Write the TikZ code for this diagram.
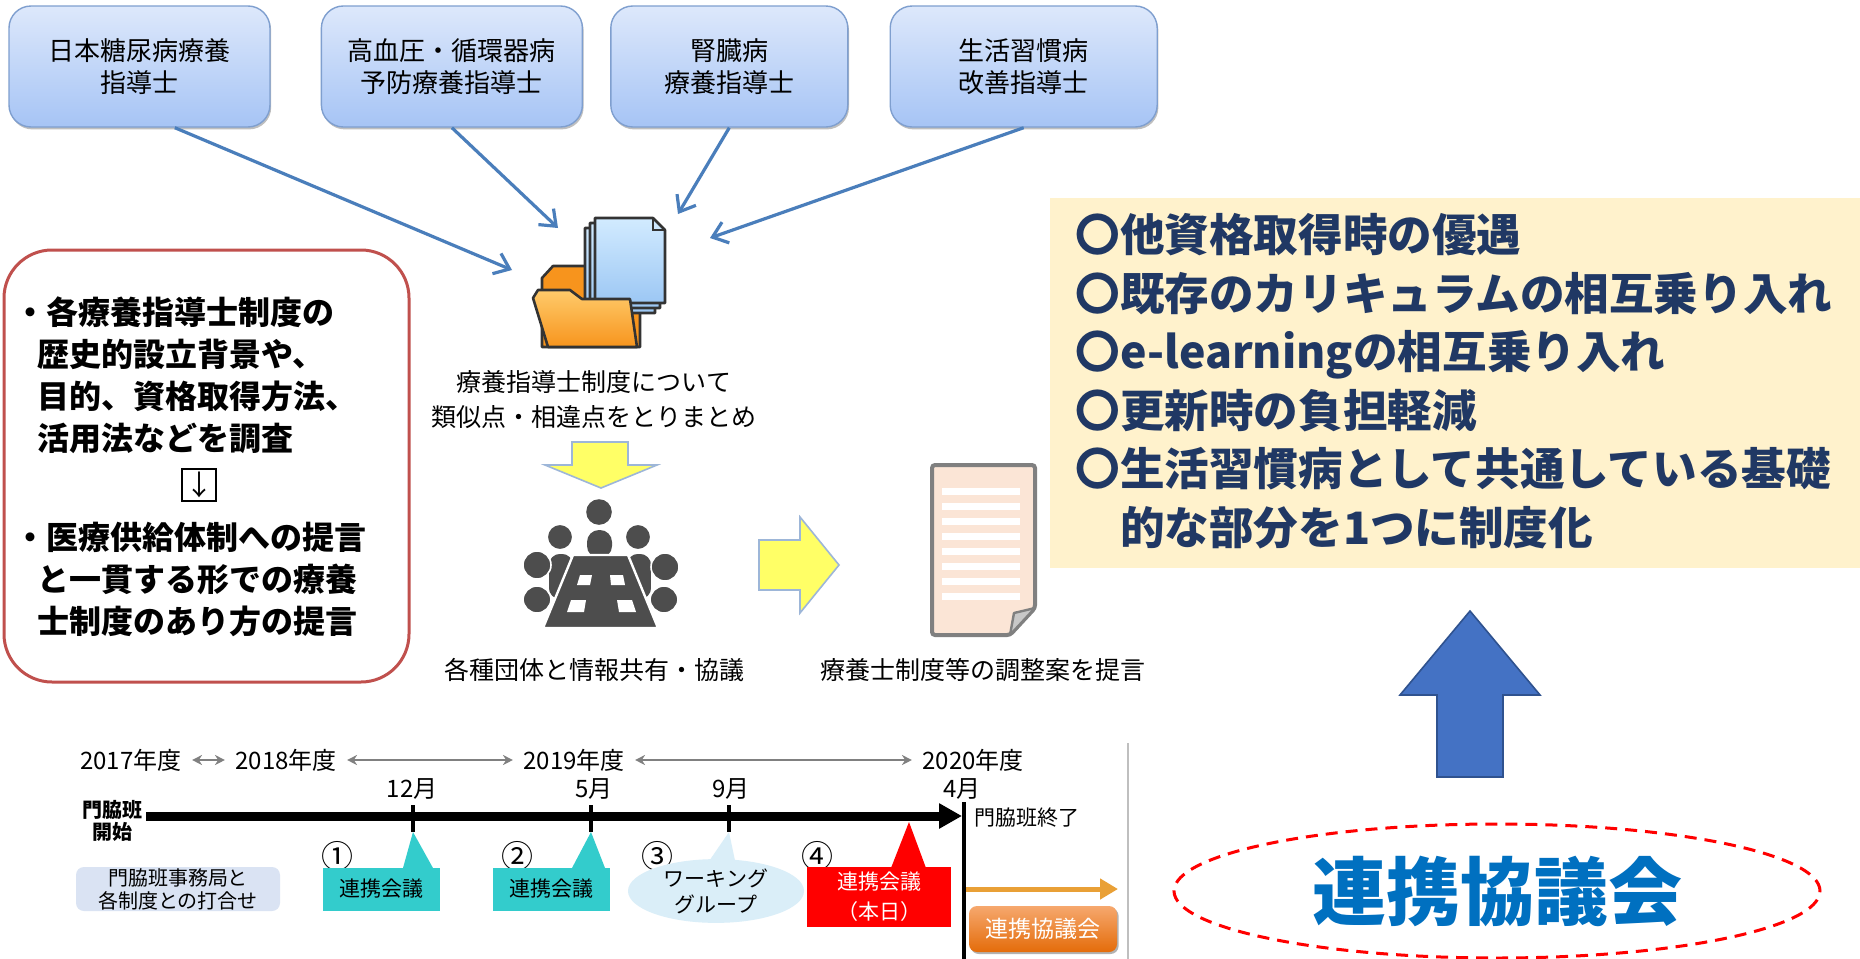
\documentclass[tikz,border=0pt]{standalone}
\usepackage{fontspec}
\setmainfont{Noto Sans CJK JP}
\usepackage{tikz}
\usetikzlibrary{positioning, shapes.geometric, arrows.meta, shadows}

\definecolor{boxtop}{HTML}{DDE8FB}
\definecolor{boxbot}{HTML}{A6C4F5}
\definecolor{boxedge}{HTML}{7F9FCF}
\definecolor{linkblue}{HTML}{4A7EBB}
\definecolor{redline}{HTML}{C0504D}
\definecolor{cream}{HTML}{FFF2CC}
\definecolor{navy}{HTML}{203864}
\definecolor{upblue}{HTML}{4472C4}
\definecolor{upedge}{HTML}{2F528F}
\definecolor{kyoblue}{HTML}{0070C0}
\definecolor{icongray}{HTML}{4D4D4D}
\definecolor{iconline}{HTML}{333333}
\definecolor{folderlight}{HTML}{FFCB6B}
\definecolor{folderdark}{HTML}{F7941D}
\definecolor{pagetop}{HTML}{D2EBFF}
\definecolor{pagebot}{HTML}{9CC7F4}
\definecolor{peach}{HTML}{FBE5D6}
\definecolor{docline}{HTML}{808080}
\definecolor{flapgray}{HTML}{C8C8C8}
\definecolor{bigyellow}{HTML}{FFFF66}
\definecolor{yellowedge}{HTML}{9DB6D8}
\definecolor{yeargray}{HTML}{808080}
\definecolor{callteal}{HTML}{33CCCC}
\definecolor{prepblue}{HTML}{DAE3F3}
\definecolor{wgblue}{HTML}{DAEEF8}
\definecolor{nextorange}{HTML}{E9A036}
\definecolor{orlight}{HTML}{F6A86E}
\definecolor{ordark}{HTML}{E46C0A}
\definecolor{sepgray}{HTML}{BFBFBF}

\begin{document}
\begin{tikzpicture}[x=0.5pt, y=-0.5pt,
qualnode/.style={rectangle, rounded corners=11pt, draw=boxedge, line width=0.7pt,
  top color=boxtop, bottom color=boxbot, minimum width=130.5pt, minimum height=60.5pt,
  align=center, font=\fontsize{13}{16}\selectfont,
  drop shadow={shadow xshift=0.6pt, shadow yshift=-1.2pt, fill=black, opacity=0.25}},
link/.style={line width=1.6pt, linkblue, -{Straight Barb[length=7pt, width=11pt, line width=1.6pt]}},
caption/.style={font=\fontsize{12.5}{17.5}\selectfont, align=center, inner sep=0pt},
redtext/.style={font=\bfseries\fontsize{16}{21}\selectfont, align=left, inner sep=0pt},
yearnode/.style={font=\fontsize{12}{12}\selectfont, inner xsep=5pt, inner ysep=0pt},
yeararrow/.style={yeargray, line width=1.1pt, {Stealth[length=5pt, width=5pt]}-{Stealth[length=5pt, width=5pt]}},
monthnode/.style={font=\fontsize{12}{12}\selectfont, inner sep=0pt},
tickmark/.style={line width=2pt},
callbox/.style={rectangle, minimum width=58.5pt, minimum height=21.5pt, inner sep=0pt,
  font=\fontsize{10.5}{15}\selectfont, align=center},
numnode/.style={font=\fontsize{16}{16}\selectfont, inner sep=0pt},
]

\path[use as bounding box, fill=white] (0,0) rectangle (1860,959);

% qualification boxes
\node[qualnode] (b1) at (139.5,66.5) {日本糖尿病療養\\指導士};
\node[qualnode, right=25pt of b1] (b2) {高血圧・循環器病\\予防療養指導士};
\node[qualnode, minimum width=118.5pt, right=13.5pt of b2] (b3) {腎臓病\\療養指導士};
\node[qualnode, minimum width=133.5pt, right=20.5pt of b3] (b4) {生活習慣病\\改善指導士};

% folder with stacked pages
\coordinate (f1) at (512,270);
\coordinate (f2) at (558,228);
\coordinate (f3) at (678,214);
\coordinate (f4) at (710,238);
\filldraw[fill=folderdark, draw=iconline, line width=1.3pt, line join=round]
  (542,347) -- (542,278) -- (553,266) -- (586,266) -- (594,274) -- (640,274) -- (640,347) -- cycle;
\draw[top color=pagetop, bottom color=pagebot, draw=iconline, line width=1.3pt, line join=round]
  (585,228) -- (643,228) -- (655,240) -- (655,313) -- (585,313) -- cycle;
\draw[top color=pagetop, bottom color=pagebot, draw=iconline, line width=1.3pt, line join=round]
  (590,223) -- (648,223) -- (660,235) -- (660,308) -- (590,308) -- cycle;
\draw[top color=pagetop, bottom color=pagebot, draw=iconline, line width=1.3pt, line join=round]
  (595,218) -- (653,218) -- (665,230) -- (665,303) -- (595,303) -- cycle;
\draw[iconline, line width=1pt] (653,218) |- (665,230);
\draw[top color=folderlight, bottom color=folderdark, draw=iconline, line width=1.3pt, line join=round]
  (533,298) -- (538,290) -- (570,290) -- (582,299) -- (630,299) -- (637,347) -- (548,347) -- cycle;

\draw[link] (b1.-60) -- (f1);
\draw[link] (b2.south) -- (f2);
\draw[link] (b3.south) -- (f3);
\draw[link] (b4.south) -- (f4);

\node[caption] (sorttxt) at (594,400) {療養指導士制度について\\類似点・相違点をとりまとめ};

% yellow block arrows
\filldraw[fill=bigyellow, draw=yellowedge, line width=0.8pt]
  (572,442) -- (628,442) -- (628,465) -- (657,465) -- (601,488) -- (545,465) -- (572,465) -- cycle;
\filldraw[fill=bigyellow, draw=yellowedge, line width=0.8pt]
  (759,540) -- (800,540) -- (800,517) -- (839,565) -- (800,613) -- (800,590) -- (759,590) -- cycle;

% meeting table icon
\fill[icongray] (599,512) circle[radius=6.4pt];
\fill[icongray, rounded corners=6pt] (587,558) -- (587,530) -- (612,530) -- (612,558) -- cycle;
\filldraw[icongray, draw=white, line width=0.8pt, rounded corners=6pt] (548,600) -- (548,553) -- (574,553) -- (574,600) -- cycle;
\filldraw[icongray, draw=white, line width=0.8pt, rounded corners=6pt] (626,600) -- (626,553) -- (652,553) -- (652,600) -- cycle;
\filldraw[icongray, draw=white, line width=0.8pt] (560,537) circle[radius=6.4pt];
\filldraw[icongray, draw=white, line width=0.8pt] (638,537) circle[radius=6.4pt];
\filldraw[icongray, draw=white, line width=0.8pt, rounded corners=7pt] (523,613) -- (523,586) -- (551,586) -- (551,613) -- cycle;
\filldraw[icongray, draw=white, line width=0.8pt, rounded corners=7pt] (650,613) -- (650,586) -- (678,586) -- (678,613) -- cycle;
\filldraw[icongray, draw=white, line width=0.8pt] (537,565) circle[radius=7pt];
\filldraw[icongray, draw=white, line width=0.8pt] (665,567) circle[radius=7pt];
\filldraw[icongray, draw=white, line width=1.2pt] (573,555) -- (628,555) -- (658,628) -- (543,628) -- cycle;
\fill[white] (580,575) -- (592,575) -- (590,585) -- (577,585) -- cycle;
\fill[white] (610,575) -- (623,575) -- (625,585) -- (611,585) -- cycle;
\fill[white] (571,600) -- (586,600) -- (584,612) -- (567,612) -- cycle;
\fill[white] (617,600) -- (632,600) -- (636,612) -- (619,612) -- cycle;

\node[caption] (meettxt) at (594,670) {各種団体と情報共有・協議};

% proposal document
\filldraw[fill=peach, draw=docline, line width=2pt, rounded corners=1.5pt]
  (932,465) -- (1035,465) -- (1035,608) -- (1010,635) -- (932,635) -- cycle;
\fill[white] (942,488) rectangle (1020,495);
\fill[white] (942,503) rectangle (1020,510);
\fill[white] (942,518) rectangle (1020,525);
\fill[white] (942,533) rectangle (1020,540);
\fill[white] (942,548) rectangle (1020,555);
\fill[white] (942,563) rectangle (1020,570);
\fill[white] (942,578) rectangle (1020,585);
\fill[white] (942,593) rectangle (1020,600);
\filldraw[fill=flapgray, draw=docline, line width=1.2pt, line join=round]
  (1035,608) -- (1014,613) -- (1010,635) -- cycle;

\node[caption] (doctxt) at (983,670) {療養士制度等の調整案を提言};

% aims of the study
\node[draw=redline, line width=1.5pt, rounded corners=24pt, minimum width=202.5pt,
  minimum height=216pt, inner sep=0pt] (aimbox) at (206.5,466) {};
\node[redtext, anchor=north west] (survey) at (14,296)
  {・各療養指導士制度の\\\hspace*{0.72em}歴史的設立背景や、\\\hspace*{0.72em}目的、資格取得方法、\\\hspace*{0.72em}活用法などを調査};
\node[draw, line width=0.6pt, inner sep=1.5pt, font=\fontsize{14}{14}\selectfont] (thenbox) at (199,485) {↓};
\node[redtext, anchor=north west] (proposal) at (14,522)
  {・医療供給体制への提言\\\hspace*{0.72em}と一貫する形での療養\\\hspace*{0.72em}士制度のあり方の提言};

% expected merits
\node[fill=cream, minimum width=405pt, minimum height=185pt, inner sep=0pt, anchor=north west] (meritbox) at (1050,198) {};
\node[font=\bfseries\fontsize{22.3}{29.3}\selectfont, text=navy, align=left, inner sep=0pt, anchor=north west] (merits) at (1075,213)
  {〇他資格取得時の優遇\\〇既存のカリキュラムの相互乗り入れ\\〇e-learningの相互乗り入れ\\〇更新時の負担軽減\\〇生活習慣病として共通している基礎\\　的な部分を1つに制度化};

\filldraw[fill=upblue, draw=upedge, line width=0.8pt]
  (1437,777) -- (1437,695) -- (1400,695) -- (1470,611) -- (1540,695) -- (1503,695) -- (1503,777) -- cycle;

\node[ellipse, draw=red, dash pattern=on 6pt off 4pt, line width=1.5pt, minimum width=323pt,
  minimum height=67pt, inner sep=0pt, text=kyoblue, font=\bfseries\fontsize{37}{37}\selectfont] (council) at (1497,891) {連携協議会};

% schedule
\node[yearnode] (y17) at (131,760) {2017年度};
\node[yearnode] (y18) at (286,760) {2018年度};
\node[yearnode] (y19) at (574,760) {2019年度};
\node[yearnode] (y20) at (973,760) {2020年度};
\draw[yeararrow] (y17) -- (y18);
\draw[yeararrow] (y18) -- (y19);
\draw[yeararrow] (y19) -- (y20);

\node[monthnode] (m12) at (412,789) {12月};
\node[monthnode] (m5) at (594,789) {5月};
\node[monthnode] (m9) at (731,789) {9月};
\node[monthnode] (m4) at (962,789) {4月};

\node[font=\bfseries\fontsize{10}{11}\selectfont, align=center, inner xsep=1.5pt] (kstart) at (113,821) {門脇班\\開始};
\coordinate (tlend) at (962,816);
\draw[line width=4.5pt, -{Triangle[length=11.5pt, width=12pt]}] (kstart.east |- tlend) -- (tlend);

\coordinate (t1) at (413,832);
\coordinate (t2) at (591,832);
\coordinate (t3) at (729,832);
\coordinate (today) at (909,822);
\draw[tickmark] (t1) -- ++(0,-27);
\draw[tickmark] (t2) -- ++(0,-27);
\draw[tickmark] (t3) -- ++(0,-27);

\coordinate (kend) at (964,802);
\draw[line width=1.7pt] (kend) -- ++(0,160);
\node[font=\fontsize{10.5}{10.5}\selectfont, anchor=west, inner sep=0pt] (kendtxt) at (974,818) {門脇班終了};

\node[numnode] (n1) at (337,856) {①};
\node[numnode] (n2) at (517,856) {②};
\node[numnode] (n3) at (657,856) {③};
\node[numnode] (n4) at (817,856) {④};

\node[fill=prepblue, rounded corners=4pt, minimum width=102pt, minimum height=22pt, inner sep=0pt,
  align=center, font=\fontsize{10}{11.5}\selectfont] (prep) at (178,889) {門脇班事務局と\\各制度との打合せ};

\node[callbox, fill=callteal] (c1) at (381.5,889) {連携会議};
\fill[callteal] (403,868) -- (t1) -- (433,868) -- cycle;
\node[callbox, fill=callteal] (c2) at (551.5,889) {連携会議};
\fill[callteal] (572,868) -- (t2) -- (605,868) -- cycle;
\node[ellipse, fill=wgblue, minimum width=88pt, minimum height=26pt, inner sep=0pt,
  font=\fontsize{10.5}{13}\selectfont, align=center] (c3) at (716,891) {ワーキング\\グループ};
\fill[wgblue] (703,870) -- (t3) -- (737,870) -- cycle;
\node[callbox, fill=red, text=white, minimum width=72pt, minimum height=30pt] (c4) at (879,897) {連携会議\\（本日）};
\fill[red] (891,868) -- (today) -- (926,868) -- cycle;

\coordinate (nextstart) at (966,889);
\coordinate (nextend) at (1118,889);
\draw[nextorange, line width=2.5pt, -{Triangle[length=9pt, width=10pt]}] (nextstart) -- (nextend);
\node[top color=orlight, bottom color=ordark, rounded corners=4pt, minimum width=74pt, minimum height=23pt,
  inner sep=0pt, text=white, font=\fontsize{11.5}{11.5}\selectfont,
  drop shadow={shadow xshift=0.8pt, shadow yshift=-1pt, fill=black, opacity=0.3}] (kyo2) at (1043,929) {連携協議会};

\draw[sepgray, line width=1pt] (1128,743) -- (1128,959);

\end{tikzpicture}
\end{document}
